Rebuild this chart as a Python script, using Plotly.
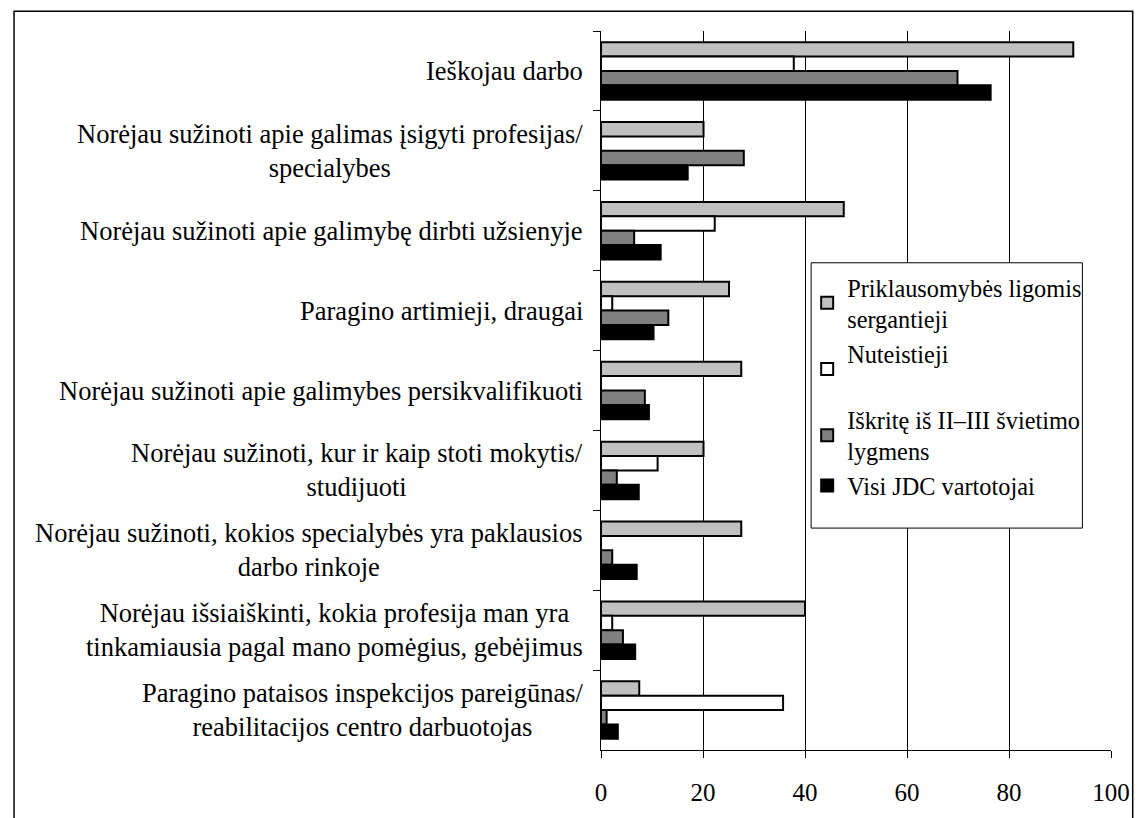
import plotly.graph_objects as go

categories = [
    "Ieškojau darbo",
    "Norėjau sužinoti apie galimas įsigyti profesijas/<br>specialybes",
    "Norėjau sužinoti apie galimybę dirbti užsienyje",
    "Paragino artimieji, draugai",
    "Norėjau sužinoti apie galimybes persikvalifikuoti",
    "Norėjau sužinoti, kur ir kaip stoti mokytis/<br>studijuoti",
    "Norėjau sužinoti, kokios specialybės yra paklausios<br>darbo rinkoje",
    "Norėjau išsiaiškinti, kokia profesija man yra<br>tinkamiausia pagal mano pomėgius, gebėjimus",
    "Paragino pataisos inspekcijos pareigūnas/<br>reabilitacijos centro darbuotojas",
]

series_names = [
    "Priklausomybės ligomis<br>sergantieji",
    "Nuteistieji<br> ",
    "Iškritę iš II–III švietimo<br>lygmens",
    "Visi JDC vartotojai",
]

priklausomybes = [92.6, 20.1, 47.6, 25.1, 27.5, 20.1, 27.5, 40.0, 7.5]
nuteistieji = [37.8, 0, 22.3, 2.2, 0, 11.1, 0, 2.2, 35.7]
iskrite = [69.9, 28.0, 6.5, 13.2, 8.6, 3.1, 2.2, 4.3, 1.1]
visi = [76.4, 17.0, 11.7, 10.3, 9.4, 7.4, 7.0, 6.7, 3.3]

x_ticks = [0, 20, 40, 60, 80, 100]

series_values = [priklausomybes, nuteistieji, iskrite, visi]
colors = ["#c0c0c0", "#ffffff", "#808080", "#000000"]

FONT = "Liberation Serif, Times New Roman, serif"

# plot area in page pixels
PL, PR, PT, PB = 601, 1118, 31, 760
PW, PH = PR - PL, PB - PT


def px(x):
    return (x - PL) / PW


def py(y):
    return (PB - y) / PH


fig = go.Figure()
for name, vals, col in zip(series_names, series_values, colors):
    fig.add_trace(go.Bar(
        y=categories, x=vals, name=name, orientation="h",
        marker=dict(color=col, line=dict(color="black", width=2)),
        legendgroup=name,
    ))

for cat in categories:
    fig.add_annotation(
        x=0, xref="paper", y=cat, yref="y", text=cat,
        xanchor="right", yanchor="middle", align="center",
        xshift=-16, showarrow=False,
        font=dict(family=FONT, size=26.5, color="black"),
    )

fig.update_layout(
    width=1142, height=818,
    margin=dict(l=PL, r=1142 - PR, t=PT, b=818 - PB),
    paper_bgcolor="white", plot_bgcolor="white",
    barmode="group", bargap=0.28, bargroupgap=0,
    font=dict(family=FONT, size=25, color="black"),
    showlegend=True,
    legend=dict(
        x=px(810), y=py(268), xanchor="left", yanchor="top",
        bgcolor="rgba(0,0,0,0)", borderwidth=0,
        font=dict(family=FONT, size=24.3, color="black"),
        traceorder="normal", tracegroupgap=5,
    ),
    xaxis=dict(
        range=[0, 100], tickvals=x_ticks, ticktext=[str(v) for v in x_ticks],
        showgrid=True, gridcolor="black", gridwidth=1,
        showline=True, linecolor="black", linewidth=1,
        ticks="outside", ticklen=7, tickcolor="black",
        ticklabelstandoff=13, zeroline=False,
        tickfont=dict(family=FONT, size=25, color="black"),
        fixedrange=True,
    ),
    yaxis=dict(
        type="category", categoryorder="array", categoryarray=categories,
        autorange="reversed", showticklabels=False,
        tickson="boundaries", ticks="outside", ticklen=7, tickcolor="black",
        showline=True, linecolor="black", linewidth=1, showgrid=False,
        fixedrange=True,
    ),
)

# legend frame
fig.add_shape(
    type="rect", xref="paper", yref="paper",
    x0=px(814), x1=px(1089), y0=py(535), y1=py(266),
    line=dict(color="black", width=1), fillcolor="white", layer="above",
)
# outer frame
fig.add_shape(
    type="rect", xref="paper", yref="paper",
    x0=px(6), x1=px(1140), y0=py(830), y1=py(11),
    line=dict(color="black", width=1.5), layer="below",
)

fig.write_html(
    "out.html",
    config={"displayModeBar": False, "staticPlot": True},
    post_script=(
        "document.documentElement.style.margin='0px';"
        "document.documentElement.style.overflow='hidden';"
        "document.body.style.margin='0px';"
        "document.body.style.overflow='hidden';"
    ),
)
